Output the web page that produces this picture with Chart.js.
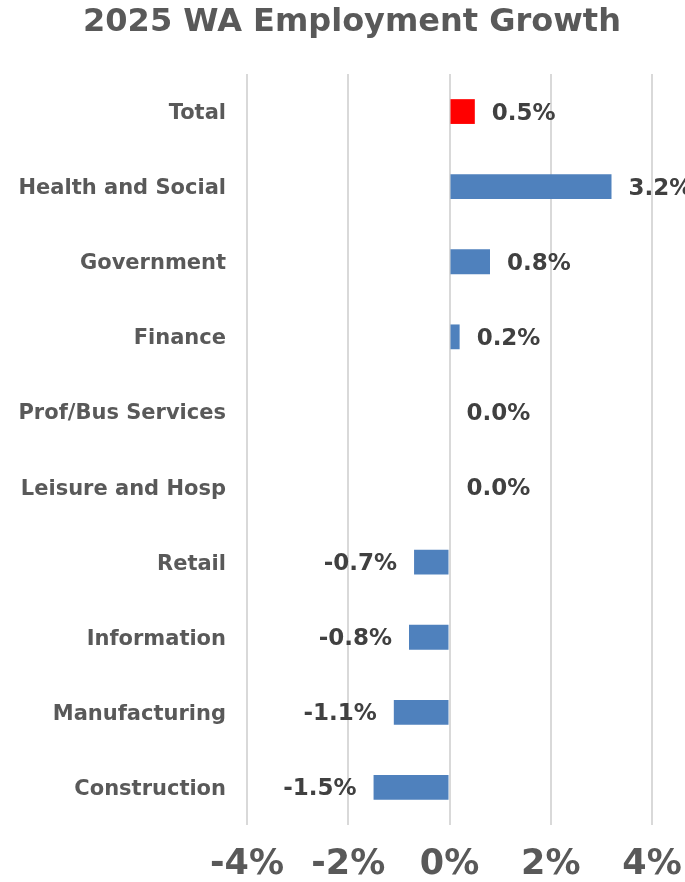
<!DOCTYPE html>
<html>
<head>
<meta charset="utf-8">
<script src="https://cdn.jsdelivr.net/npm/chart.js@4/dist/chart.umd.min.js"></script>
<style>
  html, body { margin: 0; padding: 0; background: #ffffff; }
  #wrap { width: 685px; height: 882px; }
</style>
</head>
<body>
<div id="wrap"><canvas id="c" width="685" height="882"></canvas></div>
<script>
const categories = ['Total', 'Health and Social', 'Government', 'Finance', 'Prof/Bus Services',
  'Leisure and Hosp', 'Retail', 'Information', 'Manufacturing', 'Construction'];
const growth = [0.5, 3.2, 0.8, 0.2, 0.0, 0.0, -0.7, -0.8, -1.1, -1.5];
const xTicks = [-4, -2, 0, 2, 4];
const titleText = '2025 WA Employment Growth';

const FONT = "'DejaVu Sans', Verdana, sans-serif";
const highlightColor = '#ff0000';
const barColor = '#4f81bd';

const valueLabels = {
  id: 'valueLabels',
  afterDatasetsDraw(chart) {
    const ctx = chart.ctx;
    const meta = chart.getDatasetMeta(0);
    const xs = chart.scales.x;
    const zero = xs.getPixelForValue(0);
    ctx.save();
    ctx.font = 'bold 23px ' + FONT;
    ctx.fillStyle = '#404040';
    ctx.textBaseline = 'middle';
    meta.data.forEach((bar, i) => {
      const v = growth[i];
      const txt = v.toFixed(1) + '%';
      const end = xs.getPixelForValue(v);
      if (v < 0) {
        ctx.textAlign = 'right';
        ctx.fillText(txt, end - 17, bar.y + 2);
      } else {
        ctx.textAlign = 'left';
        ctx.fillText(txt, Math.max(end, zero) + 17, bar.y + 2);
      }
    });
    ctx.restore();
  }
};

const titleDraw = {
  id: 'titleDraw',
  afterDraw(chart) {
    const ctx = chart.ctx;
    ctx.save();
    ctx.font = 'bold 32px ' + FONT;
    ctx.fillStyle = '#595959';
    ctx.textAlign = 'center';
    ctx.textBaseline = 'middle';
    ctx.fillText(titleText, 352, 23);
    ctx.restore();
  }
};

new Chart(document.getElementById('c'), {
  type: 'bar',
  data: {
    labels: categories,
    datasets: [{
      data: growth,
      backgroundColor: growth.map((v, i) => i === 0 ? highlightColor : barColor),
      borderWidth: 0,
      barPercentage: 0.66,
      categoryPercentage: 0.5
    }]
  },
  options: {
    indexAxis: 'y',
    responsive: false,
    animation: false,
    layout: { padding: { left: 0, right: 33, top: 74, bottom: 0 } },
    plugins: {
      legend: { display: false },
      tooltip: { enabled: false },
      title: { display: false }
    },
    scales: {
      x: {
        type: 'linear',
        min: -4,
        max: 4,
        afterBuildTicks(scale) { scale.ticks = xTicks.map(v => ({ value: v })); },
        afterFit(scale) {
          scale.height = 57;
          scale.paddingLeft = 0;
          scale.paddingRight = 0;
        },
        ticks: {
          callback: v => v + '%',
          color: '#595959',
          font: { family: FONT, size: 35, weight: 'bold' },
          padding: 19,
          maxRotation: 0
        },
        grid: { color: '#d9d9d9', lineWidth: 2, drawTicks: false },
        border: { display: false }
      },
      y: {
        type: 'category',
        afterFit(scale) { scale.width = 247; scale.paddingTop = 0; scale.paddingBottom = 0; },
        ticks: {
          color: '#595959',
          font: { family: FONT, size: 21, weight: 'bold' },
          padding: 21,
          labelOffset: 2
        },
        grid: { display: false, drawTicks: false },
        border: { display: false }
      }
    }
  },
  plugins: [valueLabels, titleDraw]
});
</script>
</body>
</html>
